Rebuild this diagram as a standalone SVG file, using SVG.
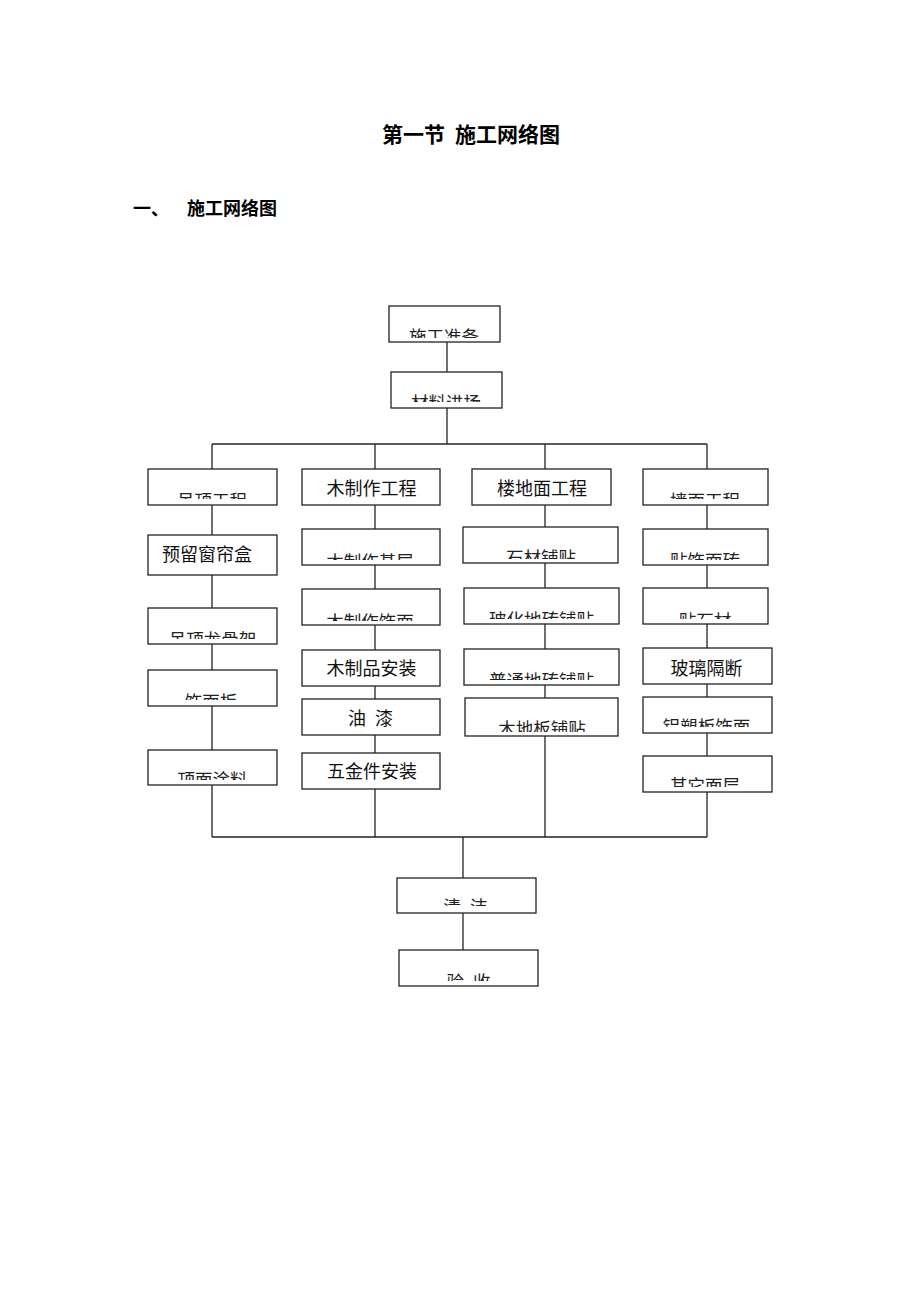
<svg xmlns="http://www.w3.org/2000/svg" width="920" height="1302" viewBox="0 0 920 1302">
<style>
.bg{fill:#fff}
.box{fill:#fff;stroke:#222;stroke-width:1.3}
.ln{fill:none;stroke:#222;stroke-width:1.3}
.t{font-family:"Noto Sans CJK SC","Liberation Sans",sans-serif;font-size:18px;fill:#111;text-anchor:middle}
.c{font-family:"Noto Sans CJK SC","Liberation Sans",sans-serif;font-size:17.5px;fill:#222;text-anchor:middle}
.h{font-family:"Noto Sans CJK SC","Liberation Sans",sans-serif;font-weight:bold;fill:#000}
</style>
<defs>
<clipPath id="k1"><rect x="389" y="306" width="111" height="32"/></clipPath>
<clipPath id="k2"><rect x="391" y="372" width="111" height="30"/></clipPath>
<clipPath id="k3"><rect x="148" y="469" width="129" height="30"/></clipPath>
<clipPath id="k4"><rect x="148" y="608" width="129" height="31"/></clipPath>
<clipPath id="k5"><rect x="148" y="670" width="129" height="30"/></clipPath>
<clipPath id="k6"><rect x="148" y="750" width="129" height="30"/></clipPath>
<clipPath id="k7"><rect x="302" y="529" width="138" height="31"/></clipPath>
<clipPath id="k8"><rect x="302" y="589" width="138" height="32"/></clipPath>
<clipPath id="k9"><rect x="463" y="527" width="155" height="32"/></clipPath>
<clipPath id="k10"><rect x="464" y="588" width="155" height="31"/></clipPath>
<clipPath id="k11"><rect x="464" y="649" width="155" height="31"/></clipPath>
<clipPath id="k12"><rect x="465" y="698" width="153" height="34"/></clipPath>
<clipPath id="k13"><rect x="643" y="469" width="125" height="30"/></clipPath>
<clipPath id="k14"><rect x="643" y="529" width="125" height="31"/></clipPath>
<clipPath id="k15"><rect x="643" y="588" width="125" height="31"/></clipPath>
<clipPath id="k16"><rect x="643" y="697" width="129" height="30"/></clipPath>
<clipPath id="k17"><rect x="643" y="756" width="129" height="31"/></clipPath>
<clipPath id="k18"><rect x="397" y="878" width="139" height="28"/></clipPath>
<clipPath id="k19"><rect x="399" y="950" width="139" height="31"/></clipPath>
</defs>
<rect class="bg" x="0" y="0" width="920" height="1302"/>

<g id="title">
<text class="h" x="382" y="142" font-size="21">第一节<tspan x="455">施工网络图</tspan></text>
<text class="h" x="133" y="215" font-size="18">一、<tspan x="187">施工网络图</tspan></text>
</g>

<g id="connectors">
<line class="ln" x1="447" y1="342" x2="447" y2="372"/>
<line class="ln" x1="447" y1="408" x2="447" y2="444"/>
<line class="ln" x1="212" y1="444" x2="707" y2="444"/>
<line class="ln" x1="212" y1="444" x2="212" y2="469"/>
<line class="ln" x1="375" y1="444" x2="375" y2="469"/>
<line class="ln" x1="545" y1="444" x2="545" y2="469"/>
<line class="ln" x1="707" y1="444" x2="707" y2="469"/>
<line class="ln" x1="212" y1="505" x2="212" y2="535"/>
<line class="ln" x1="212" y1="575" x2="212" y2="608"/>
<line class="ln" x1="212" y1="644" x2="212" y2="670"/>
<line class="ln" x1="212" y1="706" x2="212" y2="750"/>
<line class="ln" x1="212" y1="785" x2="212" y2="837"/>
<line class="ln" x1="375" y1="505" x2="375" y2="529"/>
<line class="ln" x1="375" y1="565" x2="375" y2="589"/>
<line class="ln" x1="375" y1="625" x2="375" y2="650"/>
<line class="ln" x1="375" y1="686" x2="375" y2="699"/>
<line class="ln" x1="375" y1="735" x2="375" y2="753"/>
<line class="ln" x1="375" y1="789" x2="375" y2="837"/>
<line class="ln" x1="545" y1="505" x2="545" y2="527"/>
<line class="ln" x1="545" y1="563" x2="545" y2="588"/>
<line class="ln" x1="545" y1="624" x2="545" y2="649"/>
<line class="ln" x1="545" y1="685" x2="545" y2="698"/>
<line class="ln" x1="545" y1="736" x2="545" y2="837"/>
<line class="ln" x1="707" y1="505" x2="707" y2="529"/>
<line class="ln" x1="707" y1="565" x2="707" y2="588"/>
<line class="ln" x1="707" y1="624" x2="707" y2="648"/>
<line class="ln" x1="707" y1="684" x2="707" y2="697"/>
<line class="ln" x1="707" y1="733" x2="707" y2="756"/>
<line class="ln" x1="707" y1="792" x2="707" y2="837"/>
<line class="ln" x1="212" y1="837" x2="707" y2="837"/>
<line class="ln" x1="463" y1="837" x2="463" y2="878"/>
<line class="ln" x1="463" y1="913" x2="463" y2="950"/>
</g>

<g id="n1"><rect class="box" x="389" y="306" width="111" height="36"/><text class="c" x="444" y="343" clip-path="url(#k1)">施工准备</text></g>
<g id="n2"><rect class="box" x="391" y="372" width="111" height="36"/><text class="c" x="446" y="409" clip-path="url(#k2)">材料进场</text></g>

<g id="a1"><rect class="box" x="148" y="469" width="129" height="36"/><text class="c" x="212" y="507" clip-path="url(#k3)">吊顶工程</text></g>
<g id="a2"><rect class="box" x="148" y="535" width="129" height="40"/><text class="t" x="207" y="561">预留窗帘盒</text></g>
<g id="a3"><rect class="box" x="148" y="608" width="129" height="36"/><text class="c" x="212.5" y="646" clip-path="url(#k4)">吊顶龙骨架</text></g>
<g id="a4"><rect class="box" x="148" y="670" width="129" height="36"/><text class="c" x="211" y="708" clip-path="url(#k5)">饰面板</text></g>
<g id="a5"><rect class="box" x="148" y="750" width="129" height="35"/><text class="c" x="212.5" y="786" clip-path="url(#k6)">顶面涂料</text></g>

<g id="b1"><rect class="box" x="302" y="469" width="138" height="36"/><text class="t" x="371.5" y="495">木制作工程</text></g>
<g id="b2"><rect class="box" x="302" y="529" width="138" height="36"/><text class="c" x="370" y="568" clip-path="url(#k7)">木制作基层</text></g>
<g id="b3"><rect class="box" x="302" y="589" width="138" height="36"/><text class="c" x="370" y="628" clip-path="url(#k8)">木制作饰面</text></g>
<g id="b4"><rect class="box" x="302" y="650" width="138" height="36"/><text class="t" x="371.5" y="675">木制品安装</text></g>
<g id="b5"><rect class="box" x="302" y="699" width="138" height="36"/><text class="t" x="370.5" y="725" xml:space="preserve" word-spacing="5">油 漆</text></g>
<g id="b6"><rect class="box" x="302" y="753" width="138" height="36"/><text class="t" x="372" y="778">五金件安装</text></g>

<g id="c1"><rect class="box" x="472" y="469" width="139" height="36"/><text class="t" x="542" y="495">楼地面工程</text></g>
<g id="c2"><rect class="box" x="463" y="527" width="155" height="36"/><text class="c" x="541" y="564" clip-path="url(#k9)">石材铺贴</text></g>
<g id="c3"><rect class="box" x="464" y="588" width="155" height="36"/><text class="c" x="541.5" y="626" clip-path="url(#k10)">玻化地砖铺贴</text></g>
<g id="c4"><rect class="box" x="464" y="649" width="155" height="36"/><text class="c" x="541.5" y="687" clip-path="url(#k11)">普通地砖铺贴</text></g>
<g id="c5"><rect class="box" x="465" y="698" width="153" height="38"/><text class="c" x="542" y="735" clip-path="url(#k12)">木地板铺贴</text></g>

<g id="d1"><rect class="box" x="643" y="469" width="125" height="36"/><text class="c" x="705" y="507" clip-path="url(#k13)">墙面工程</text></g>
<g id="d2"><rect class="box" x="643" y="529" width="125" height="36"/><text class="c" x="705" y="567" clip-path="url(#k14)">贴饰面砖</text></g>
<g id="d3"><rect class="box" x="643" y="588" width="125" height="36"/><text class="c" x="705" y="627" clip-path="url(#k15)">贴石材</text></g>
<g id="d4"><rect class="box" x="643" y="648" width="129" height="36"/><text class="t" x="706.5" y="675">玻璃隔断</text></g>
<g id="d5"><rect class="box" x="643" y="697" width="129" height="36"/><text class="c" x="706.5" y="733" clip-path="url(#k16)">铝塑板饰面</text></g>
<g id="d6"><rect class="box" x="643" y="756" width="129" height="36"/><text class="c" x="705" y="792" clip-path="url(#k17)">其它面层</text></g>

<g id="e1"><rect class="box" x="397" y="878" width="139" height="35"/><text class="c" x="465.5" y="913" clip-path="url(#k18)" xml:space="preserve" word-spacing="5">清 洁</text></g>
<g id="e2"><rect class="box" x="399" y="950" width="139" height="36"/><text class="c" x="468.5" y="988" clip-path="url(#k19)" xml:space="preserve" word-spacing="5">验 收</text></g>
</svg>
